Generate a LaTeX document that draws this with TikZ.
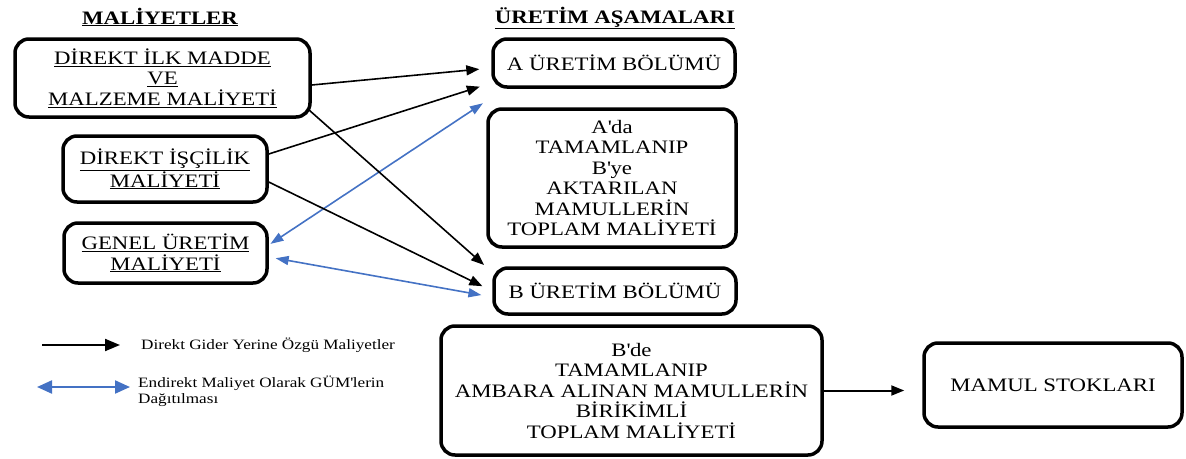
\documentclass[tikz,border=0pt]{standalone}
\usepackage{fontspec}
\setmainfont{Liberation Serif}[FakeStretch=1.2]
\usetikzlibrary{arrows.meta,calc}
\definecolor{gblue}{HTML}{4472C4}
\newcommand{\apo}{\textquotesingle}
\tikzset{
 box/.style={draw, line width=3.5pt, rounded corners=14pt, align=center, font=\fontsize{19}{20.5}\selectfont, inner sep=0pt},
 ttl/.style={font=\fontsize{19}{21}\selectfont\bfseries, inner sep=0pt},
 direct/.style={line width=1.6pt, -{Triangle[length=13pt,width=10pt]}},
 indirect/.style={line width=1.6pt, gblue, {Triangle[length=13pt,width=9pt]}-{Triangle[length=13pt,width=9pt]}},
 lgdblack/.style={line width=2pt, -{Triangle[length=15pt,width=12pt]}},
 lgdblue/.style={line width=2.2pt, gblue, {Triangle[length=15pt,width=13pt]}-{Triangle[length=15pt,width=13pt]}},
 lgd/.style={font=\fontsize{14.3}{15.5}\selectfont, inner sep=0pt, align=left},
}
\begin{document}
\begin{tikzpicture}[x=1pt,y=-1pt]
\useasboundingbox (0,0) rectangle (1186,458);
% titles
\node[ttl] (t1) at (160,17) {\underline{MALİYETLER}};
\node[ttl] (t2) at (615,18) {\underline{ÜRETİM AŞAMALARI}};
% cost boxes
\node[box, minimum width=295pt, minimum height=78pt] (b1) at (162.5,78)
  {\underline{DİREKT İLK MADDE}\\\underline{VE}\\\underline{MALZEME MALİYETİ}};
\node[box, minimum width=204pt, minimum height=66pt] (b2) at (165,169)
  {\underline{DİREKT İŞÇİLİK}\\\underline{MALİYETİ}};
\node[box, minimum width=203pt, minimum height=60pt] (b3) at (165.5,253)
  {\underline{GENEL ÜRETİM}\\\underline{MALİYETİ}};
% production stages
\node[box, minimum width=242pt, minimum height=48pt] (A) at (614,63) {A ÜRETİM BÖLÜMÜ};
\node[box, minimum width=248pt, minimum height=138pt] (Ada) at (612,178)
  {A\apo da\\TAMAMLANIP\\B\apo ye\\AKTARILAN\\MAMULLERİN\\TOPLAM MALİYETİ};
\node[box, minimum width=242pt, minimum height=46pt] (B) at (615,291) {B ÜRETİM BÖLÜMÜ};
\node[box, minimum width=381pt, minimum height=129pt] (Bde) at (631.5,390.5)
  {B\apo de\\TAMAMLANIP\\AMBARA ALINAN MAMULLERİN\\BİRİKİMLİ\\TOPLAM MALİYETİ};
\node[box, minimum width=258pt, minimum height=84pt] (M) at (1053,385) {MAMUL STOKLARI};
% connectors
\draw[direct, shorten >=12pt] ([yshift=-7pt]b1.east) -- ([yshift=-5pt]A.west);
\draw[direct, shorten >=12pt] ([yshift=15pt]b2.east) -- ([yshift=-20pt]A.west);
\draw[indirect, shorten >=10pt, shorten <=2pt] ([yshift=8pt]b3.east) -- ([yshift=-9pt]A.south west);
\draw[direct, shorten >=11pt] ([xshift=-3pt,yshift=9pt]b1.south east) -- ([yshift=-6pt]B.north west);
\draw[direct, shorten >=11pt] ([yshift=-13pt]b2.east) -- (B.west);
\draw[indirect, shorten >=11pt, shorten <=7pt] ([yshift=-4pt]b3.east) -- ([yshift=-6pt]B.west);
\draw[direct, line width=2pt, shorten >=18pt] (Bde.east) -- (Bde.east -| M.west);
% legend
\coordinate (l1a) at (42,345);
\coordinate (l1b) at (120,345);
\coordinate (l2a) at (37,387);
\coordinate (l2b) at (130,387);
\draw[lgdblack] (l1a) -- (l1b);
\draw[lgdblue] (l2a) -- (l2b);
\node[lgd, anchor=base west] (lt1) at (141,349) {Direkt Gider Yerine Özgü Maliyetler};
\node[lgd, anchor=north west] (lt2) at (138,376) {Endirekt Maliyet Olarak GÜM\apo lerin\\Dağıtılması};
\end{tikzpicture}
\end{document}
